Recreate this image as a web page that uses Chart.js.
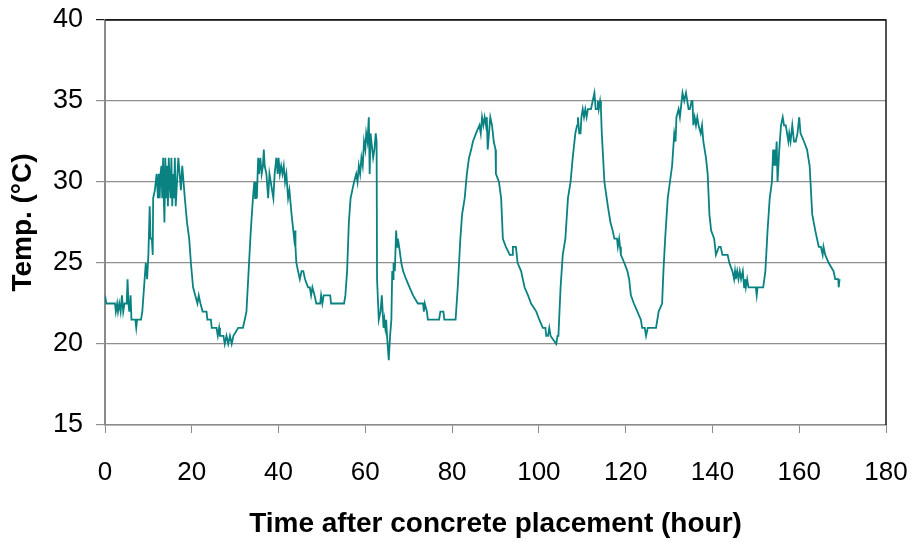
<!DOCTYPE html>
<html>
<head>
<meta charset="utf-8">
<script src="https://cdn.jsdelivr.net/npm/chart.js@4/dist/chart.umd.min.js"></script>
<style>
  html, body { margin: 0; padding: 0; background: #fff; }
  #wrap { width: 913px; height: 542px; position: relative; }
</style>
</head>
<body>
<div id="wrap"><canvas id="tempChart"></canvas></div>
<script>
// temperature log (hours after placement / degC)
const hours = [
  0, 0.3, 2.3, 2.5, 2.8, 3.0, 3.3, 3.6, 3.9, 4.2,
  4.5, 5.0, 5.2, 5.4, 5.6, 5.9, 6.1, 7.0, 7.2, 7.4,
  8.3, 8.6, 9.0, 9.4, 9.7, 10.0, 10.3, 10.5, 10.8, 11.0,
  11.1, 11.5, 11.9, 12.2, 12.4, 12.6, 12.8, 13.0, 13.2, 13.4,
  13.6, 13.7, 13.9, 14.1, 14.3, 14.5, 14.7, 14.9, 15.1, 15.3,
  15.5, 15.7, 15.9, 16.1, 16.3, 16.6, 16.9, 17.2, 17.5, 17.8,
  18.1, 18.4, 18.9, 19.4, 19.8, 20.3, 20.8, 21.3, 21.6, 22.0,
  22.5, 23.4, 23.6, 24.4, 24.6, 25.7, 26.0, 26.3, 26.5, 27.3,
  27.6, 28.0, 28.4, 28.8, 29.2, 29.6, 30.7, 31.8, 32.2, 32.6,
  33.1, 33.6, 34.1, 34.4, 34.6, 34.8, 35.0, 35.3, 35.5, 35.8,
  36.1, 36.4, 36.6, 36.8, 37.2, 37.6, 37.9, 38.2, 38.5, 38.8,
  39.1, 39.5, 39.8, 40.0, 40.3, 40.6, 40.9, 41.2, 41.5, 41.8,
  42.2, 42.5, 43.0, 43.4, 43.6, 43.8, 43.9, 44.1, 44.5, 44.9,
  45.3, 45.7, 46.1, 46.8, 47.2, 47.5, 47.8, 48.3, 48.7, 49.6,
  49.8, 50.1, 50.4, 51.9, 52.1, 55.1, 55.4, 55.8, 56.2, 56.6,
  57.0, 57.4, 57.9, 58.2, 58.5, 58.8, 59.1, 59.4, 59.7, 60.0,
  60.2, 60.5, 60.8, 61.0, 61.2, 61.4, 61.8, 62.1, 62.4, 62.6,
  62.7, 62.9, 63.1, 63.5, 63.8, 64.0, 64.2, 64.4, 64.6, 64.8,
  65.0, 65.4, 65.7, 66.0, 66.2, 66.4, 66.5, 66.8, 67.1, 67.3,
  67.5, 67.8, 68.3, 68.7, 69.4, 70.2, 71.0, 72.1, 73.3, 73.5,
  73.7, 74.2, 74.4, 77.0, 77.3, 78.0, 78.2, 80.8, 81.3, 81.9,
  82.3, 82.9, 83.4, 83.9, 84.4, 84.8, 85.5, 86.3, 86.6, 86.9,
  87.2, 87.5, 87.8, 88.0, 88.2, 88.5, 88.8, 89.2, 89.6, 90.0,
  90.1, 90.8, 91.3, 91.7, 92.4, 93.3, 93.9, 94.0, 94.7, 94.9,
  95.1, 95.9, 96.3, 96.7, 97.5, 98.2, 99.4, 100.1, 100.9, 101.5,
  101.7, 102.1, 102.4, 102.7, 104.0, 104.3, 104.5, 105.0, 105.5, 106.1,
  106.7, 107.3, 107.8, 108.4, 108.8, 109.0, 109.3, 109.6, 109.8, 110.1,
  110.4, 110.7, 111.0, 111.3, 112.0, 112.4, 112.8, 113.1, 113.4, 113.6,
  113.8, 114.1, 114.3, 114.5, 115.1, 115.9, 116.5, 117.0, 117.4, 118.0,
  118.2, 118.5, 118.7, 118.9, 119.7, 120.4, 120.8, 121.2, 121.9, 122.7,
  123.5, 123.8, 124.4, 124.7, 125.1, 127.0, 127.6, 128.4, 128.7, 129.1,
  129.7, 130.2, 130.7, 131.2, 131.5, 131.7, 132.2, 132.5, 132.7, 133.1,
  133.5, 133.9, 134.2, 134.5, 134.8, 135.2, 135.4, 135.6, 135.9, 136.2,
  136.5, 136.8, 137.3, 137.6, 137.9, 138.5, 138.9, 139.3, 139.7, 140.4,
  140.8, 141.5, 141.9, 142.3, 143.5, 143.9, 144.6, 145.0, 145.2, 145.4,
  145.7, 146.0, 146.3, 146.6, 147.0, 147.3, 147.5, 147.7, 148.0, 148.3,
  150.0, 150.2, 150.4, 151.7, 152.2, 152.7, 153.2, 153.7, 154.0, 154.1,
  154.3, 154.5, 154.8, 155.0, 155.4, 155.8, 156.2, 156.5, 156.9, 157.2,
  157.5, 157.7, 158.0, 158.4, 158.8, 159.2, 159.6, 160.0, 160.3, 161.1,
  161.8, 162.4, 163.0, 163.7, 164.5, 165.0, 165.4, 165.6, 166.0, 166.8,
  167.9, 168.3, 169.0, 169.1, 169.3
];
const temps = [
  23, 22.5, 22.5, 22, 22.5, 22, 22.5, 22, 23, 22,
  22.5, 22.5, 24, 22.5, 22, 23, 21.5, 21.5, 21, 21.5,
  21.5, 22, 23.5, 25, 24, 25.5, 28.5, 26.5, 26.5, 25.5,
  29, 29.5, 30.5, 29, 30.5, 29, 30.5, 31, 29, 31.5,
  28.5, 27.5, 31.5, 29, 31, 28.5, 31.5, 30, 29, 31.5,
  28.5, 30.5, 29, 31.5, 28.5, 30, 31.5, 30.5, 29.5, 31,
  30, 29, 27.5, 26.5, 25, 23.5, 23, 22.5, 23, 22.5,
  22, 22, 21.5, 21.5, 21, 21, 20.5, 21, 20.5, 20.5,
  20, 20.5, 20, 20.5, 20, 20.5, 21, 21, 21.5, 22,
  24.5, 27, 29, 30, 29, 30, 29, 31.5, 30.5, 31.5,
  30.5, 31, 32, 31, 30.5, 29, 30.5, 30, 29.5, 29,
  30.5, 31.5, 30.5, 31.5, 30.5, 31, 30.5, 31, 30, 30.5,
  29, 29.5, 28, 27, 26.5, 27, 26, 25, 24.5, 24,
  24.5, 24.5, 24, 23.5, 23.5, 23, 23.5, 23, 22.5, 22.5,
  23, 22.5, 23, 23, 22.5, 22.5, 23, 24.5, 27.5, 29,
  29.5, 30, 30.5, 30, 31, 30.5, 31.5, 31, 32.5, 32,
  33, 32.5, 34, 30.5, 33, 32.5, 31.5, 32, 33, 32.5,
  24, 24, 21.5, 22, 23, 22, 21, 21.5, 21, 21.5,
  20.5, 19, 20.5, 21.5, 24.5, 24, 25, 24.5, 27, 26,
  26.5, 26, 25, 24.5, 24, 23.5, 23, 22.5, 22.5, 22,
  22.5, 22, 21.5, 21.5, 22, 22, 21.5, 21.5, 23.5, 26.5,
  28, 29, 30.5, 31.5, 32, 32.5, 33, 33.5, 33, 34,
  33.5, 34, 33.5, 34, 32, 33, 34, 33.5, 32.5, 32,
  30.5, 30, 29, 26.5, 26, 25.5, 25.5, 26, 26, 25.5,
  25, 24.5, 24, 23.5, 23, 22.5, 22, 21.5, 21, 21,
  20.5, 20.5, 21, 20.5, 20, 20.5, 20.5, 23.5, 25.5, 26.5,
  29, 30, 31.5, 33, 33.5, 34, 33, 33, 34, 34.5,
  34, 34.5, 34, 34.5, 34.5, 35, 35.5, 34.5, 34.5, 35,
  34.5, 35, 34.5, 33, 30, 28.5, 27.5, 27, 26.5, 26.5,
  26, 26.5, 26, 25.5, 25, 24.5, 24, 23, 22.5, 22,
  21.5, 21, 21, 20.5, 21, 21, 22, 22.5, 24.5, 26.5,
  29, 30, 31, 33, 32.5, 34, 34.5, 34, 34.5, 35.5,
  35, 35.5, 35, 34.5, 34.5, 35, 35, 33.5, 34, 33.5,
  34, 33.5, 33, 33.5, 32.5, 31.5, 30.5, 28, 27, 26.5,
  25.5, 26, 26, 25.5, 25.5, 25, 24.5, 24, 24.5, 24,
  24.5, 24, 24.5, 24, 24.5, 23.5, 24, 23.5, 24, 23.5,
  23.5, 23, 23.5, 23.5, 24.5, 27, 29, 30, 32, 31,
  32, 31, 32.5, 30, 32, 33.5, 34, 33.5, 33.5, 33,
  32.5, 33, 32.5, 33.5, 32.5, 32.5, 33, 34, 33, 32.5,
  32, 31, 28, 27, 26, 26, 25.5, 26, 25.5, 25,
  24.5, 24, 24, 23.5, 24
];

const xTicks = [0, 20, 40, 60, 80, 100, 120, 140, 160, 180];
const yTicks = [15, 20, 25, 30, 35, 40];

const points = hours.map(function (h, i) {
  return { x: h, y: temps[i] };
});

// top and right edges of the plot box
const frame = {
  id: 'frame',
  afterDraw(chart) {
    const a = chart.chartArea;
    const ctx = chart.ctx;
    ctx.save();
    ctx.strokeStyle = '#1a1a1a';
    ctx.lineWidth = 1.5;
    ctx.beginPath();
    ctx.moveTo(a.left, a.top);
    ctx.lineTo(a.right, a.top);
    ctx.lineTo(a.right, a.bottom);
    ctx.stroke();
    ctx.restore();
  }
};

Chart.defaults.font.family = '"Liberation Sans", Arial, sans-serif';
Chart.defaults.color = '#000';

new Chart(document.getElementById('tempChart'), {
  type: 'line',
  data: {
    datasets: [{
      data: points,
      borderColor: '#0a8282',
      borderWidth: 1.8,
      pointRadius: 0,
      tension: 0,
      fill: false
    }]
  },
  options: {
    responsive: true,
    maintainAspectRatio: false,
    animation: false,
    layout: { padding: { top: 20, right: 27, left: 0, bottom: 0 } },
    plugins: { legend: { display: false }, tooltip: { enabled: false } },
    scales: {
      x: {
        type: 'linear',
        min: 0,
        max: 180,
        afterBuildTicks(scale) {
          scale.ticks = xTicks.map(v => ({ value: v }));
        },
        afterFit(scale) {
          scale.height = 117;
          scale.paddingLeft = 0;
          scale.paddingRight = 0;
        },
        grid: {
          drawOnChartArea: false,
          drawTicks: true,
          tickLength: 8,
          color: '#8a8a8a'
        },
        border: { color: '#8a8a8a', width: 1.5 },
        ticks: { font: { size: 26 }, padding: 24, maxRotation: 0 },
        title: {
          display: true,
          text: 'Time after concrete placement (hour)',
          font: { size: 28, weight: 'bold' },
          padding: { top: 0, bottom: 1 }
        }
      },
      y: {
        min: 15,
        max: 40,
        afterBuildTicks(scale) {
          scale.ticks = yTicks.map(v => ({ value: v }));
        },
        afterFit(scale) {
          scale.width = 105;
          scale.paddingTop = 0;
          scale.paddingBottom = 0;
        },
        grid: {
          tickLength: 9,
          lineWidth: 1.2,
          color: function (c) {
            return c.tick && c.tick.value === 40 ? '#1a1a1a' : '#8f8f8f';
          }
        },
        border: { color: '#8a8a8a', width: 2 },
        ticks: { font: { size: 27 }, padding: 13 },
        title: {
          display: true,
          text: 'Temp. (°C)',
          font: { size: 28, weight: 'bold' },
          padding: { top: 6, bottom: 0 }
        }
      }
    }
  },
  plugins: [frame]
});
</script>
</body>
</html>
